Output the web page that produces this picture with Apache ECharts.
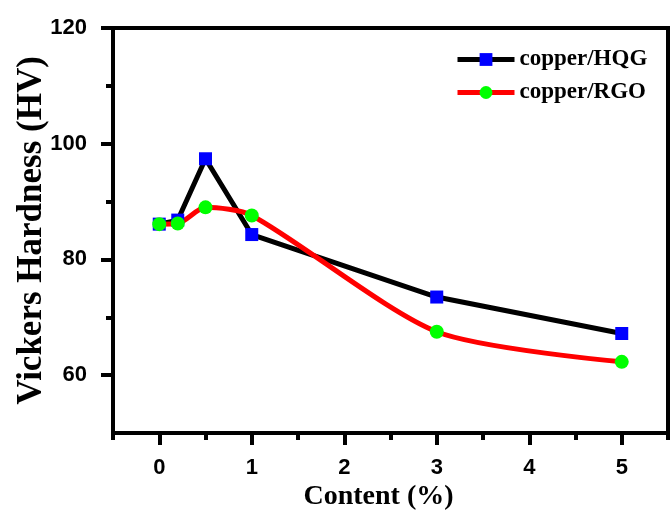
<!DOCTYPE html>
<html>
<head>
<meta charset="utf-8">
<script src="https://cdn.jsdelivr.net/npm/echarts@6/dist/echarts.min.js"></script>
<style>
  html, body { margin: 0; padding: 0; background: #fff; }
  #chart { width: 671px; height: 522px; }
</style>
</head>
<body>
<div id="chart"></div>
<script>
// content (%) and hardness values
const content = [0, 0.2, 0.5, 1, 3, 5];
const hqg = [86.1, 86.8, 97.4, 84.3, 73.5, 67.2];
const rgo = [86.1, 86.2, 89.0, 87.6, 67.5, 62.3];

const xMajor = [0, 1, 2, 3, 4, 5];
const xMinor = [-0.5, 0.5, 1.5, 2.5, 3.5, 4.5, 5.5];
const yMajor = [60, 80, 100, 120];
const yMinor = [70, 90, 110];

const pairs = (xs, ys) => xs.map((x, i) => [x, ys[i]]);

const labelFont = {
    fontFamily: 'Liberation Sans',
    fontWeight: 'bold',
    fontSize: 22,
    color: '#000'
};
const axisLine = { show: true, onZero: false, lineStyle: { color: '#000', width: 4 } };
const tickStyle = { width: 4, color: '#000' };

const chart = echarts.init(document.getElementById('chart'));
chart.setOption({
    animation: false,
    grid: {
        left: 113, right: 3, top: 28, bottom: 89,
        outerBoundsMode: 'none',
        show: true, borderColor: '#000', borderWidth: 4
    },
    legend: {
        left: 455, top: 48, orient: 'vertical', padding: 0,
        itemWidth: 57, itemHeight: 16, itemGap: 10,
        lineStyle: { width: 5 },
        textStyle: {
            fontFamily: 'Liberation Serif', fontWeight: 'bold',
            fontSize: 23, color: '#000', lineHeight: 22
        },
        data: ['copper/HQG', 'copper/RGO']
    },
    xAxis: [{
        type: 'value', min: -0.5, max: 5.5,
        splitLine: { show: false },
        axisLine: axisLine,
        axisTick: { show: true, customValues: xMajor, length: 12, lineStyle: tickStyle },
        axisLabel: Object.assign({ customValues: xMajor, margin: 24 }, labelFont),
        name: 'Content (%)', nameLocation: 'middle', nameGap: 50, nameMoveOverlap: false,
        nameTextStyle: {
            fontFamily: 'Liberation Serif', fontWeight: 'bold', fontSize: 28, color: '#000',
            padding: [0, 24, 0, 0]
        }
    }, {
        type: 'value', min: -0.5, max: 5.5, position: 'bottom',
        splitLine: { show: false },
        axisLine: { show: false, onZero: false },
        axisTick: { show: true, customValues: xMinor, length: 7, lineStyle: tickStyle },
        axisLabel: { show: false }
    }],
    yAxis: [{
        type: 'value', min: 50, max: 120,
        splitLine: { show: false },
        axisLine: axisLine,
        axisTick: { show: true, customValues: yMajor, length: 12, lineStyle: tickStyle },
        axisLabel: Object.assign({ customValues: yMajor, margin: 26 }, labelFont),
        name: 'Vickers Hardness (HV)', nameLocation: 'middle', nameGap: 64, nameMoveOverlap: false,
        nameTextStyle: { fontFamily: 'Liberation Serif', fontWeight: 'bold', fontSize: 35, color: '#000' }
    }, {
        type: 'value', min: 50, max: 120, position: 'left',
        splitLine: { show: false },
        axisLine: { show: false, onZero: false },
        axisTick: { show: true, customValues: yMinor, length: 7, lineStyle: tickStyle },
        axisLabel: { show: false }
    }],
    series: [{
        name: 'copper/HQG',
        type: 'line',
        data: pairs(content, hqg),
        symbol: 'rect', symbolSize: 13,
        lineStyle: { color: '#000', width: 5 },
        itemStyle: { color: '#0000ff' }
    }, {
        name: 'copper/RGO',
        type: 'line',
        data: pairs(content, rgo),
        smooth: 0.25,
        symbol: 'circle', symbolSize: 14,
        lineStyle: { color: '#ff0000', width: 5 },
        itemStyle: { color: '#00ff00' }
    }]
});
</script>
</body>
</html>
